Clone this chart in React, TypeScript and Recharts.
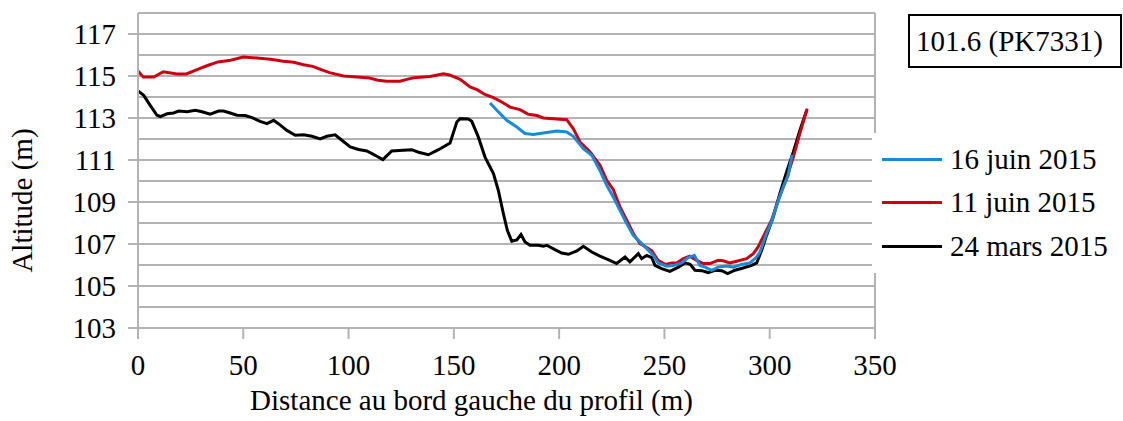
import React from 'react';
import { LineChart, Line, XAxis, YAxis, CartesianGrid, ReferenceLine, Legend, Label } from 'recharts';

// 24 mars 2015
const distMars = [0, 2.7, 5.8, 9, 10.6, 13.8, 16.9, 19.3, 23.3, 27.2, 30.4, 34.3, 38.3, 40.6, 43.8, 47, 50.9, 54.1, 58, 61.2, 64.4, 66.7, 70.7, 74.7, 78.6, 82.6, 86.5, 89.7, 93.6, 96.8, 100.8, 104.7, 108.7, 111.8, 113.4, 116.3, 120.5, 126, 130, 133.2, 137.9, 142.7, 148.2, 151.4, 153, 156.9, 158.5, 161.6, 164.8, 168.8, 171.1, 173.5, 175.4, 177.5, 179.9, 181.9, 183.8, 186.2, 190.1, 192.5, 194.1, 198, 201.2, 204.4, 208.4, 211.5, 215.5, 219.4, 224.1, 227.3, 231.3, 233.6, 237.6, 239.2, 241.6, 244, 245.5, 248.7, 252.6, 256.6, 259.8, 262.2, 264.5, 267.7, 270.8, 274, 277.2, 280, 283.5, 287.4, 291.4, 293.8, 296.2, 298.5, 301.7, 304.8, 308, 311.2, 314.3, 317.5];
const altMars = [114.29, 114.08, 113.6, 113.13, 113.07, 113.2, 113.24, 113.33, 113.3, 113.37, 113.3, 113.18, 113.33, 113.33, 113.24, 113.13, 113.12, 113.02, 112.84, 112.73, 112.89, 112.73, 112.41, 112.18, 112.2, 112.13, 112.0, 112.13, 112.2, 111.94, 111.62, 111.5, 111.43, 111.27, 111.18, 111.02, 111.43, 111.46, 111.49, 111.37, 111.25, 111.49, 111.81, 112.81, 112.97, 112.95, 112.84, 112.1, 111.14, 110.35, 109.56, 108.45, 107.65, 107.13, 107.19, 107.45, 107.1, 106.94, 106.94, 106.89, 106.94, 106.73, 106.57, 106.51, 106.67, 106.89, 106.62, 106.42, 106.22, 106.07, 106.38, 106.15, 106.54, 106.3, 106.46, 106.35, 105.98, 105.83, 105.7, 105.9, 106.1, 106.03, 105.75, 105.73, 105.64, 105.75, 105.73, 105.59, 105.75, 105.86, 105.98, 106.1, 106.7, 107.41, 108.29, 109.4, 110.43, 111.38, 112.41, 113.35];

// 11 juin 2015
const distJuin11 = [0, 2.5, 7.5, 12, 18.5, 23, 28, 33, 38, 44, 50, 56.5, 63, 69, 74, 78.6, 83, 87, 91, 97.6, 104, 110, 114, 118, 124.5, 127.7, 131, 138.7, 145, 148, 153, 157.7, 161, 165, 168.8, 172.8, 176.7, 181.4, 185.4, 189.4, 192.5, 198.9, 203.6, 206.7, 209.9, 214.7, 219.4, 222.6, 225.7, 228.9, 232.1, 235.2, 238.4, 241.6, 244, 247, 250.3, 253.4, 255.8, 259, 262, 265.3, 268.5, 271.6, 275.5, 277.9, 281, 284.3, 289, 292.2, 294.5, 297.7, 300.9, 304, 308, 311.2, 314.3, 317.8];
const altJuin11 = [115.24, 114.95, 114.95, 115.2, 115.1, 115.1, 115.3, 115.5, 115.67, 115.75, 115.9, 115.86, 115.8, 115.7, 115.65, 115.54, 115.46, 115.3, 115.16, 115.0, 114.95, 114.9, 114.8, 114.75, 114.75, 114.84, 114.92, 114.98, 115.11, 115.05, 114.84, 114.48, 114.35, 114.11, 113.97, 113.76, 113.52, 113.4, 113.18, 113.12, 113.0, 112.95, 112.92, 112.5, 111.86, 111.38, 110.75, 110.03, 109.6, 108.76, 108.13, 107.5, 107.02, 106.83, 106.67, 106.22, 106.03, 106.1, 106.1, 106.3, 106.42, 106.22, 106.07, 106.07, 106.22, 106.2, 106.1, 106.18, 106.3, 106.54, 106.86, 107.5, 108.13, 109.08, 110.11, 111.14, 112.26, 113.45];

// 16 juin 2015
const distJuin16 = [167.2, 170.4, 175.1, 179.9, 183.8, 187.7, 192.5, 198.9, 203.6, 206.7, 211.5, 215.5, 219.4, 222.6, 225.7, 228.9, 232.1, 235.2, 238.4, 241.6, 244.7, 247, 251, 254.1, 258.2, 261.3, 264.2, 266.9, 269.3, 272.4, 275.5, 279.5, 282.6, 286.6, 290.6, 293.8, 295.3, 298.5, 300.9, 303.3, 306.4, 308.8, 310.6];
const altJuin16 = [113.71, 113.37, 112.89, 112.57, 112.26, 112.22, 112.29, 112.38, 112.33, 112.13, 111.54, 111.22, 110.5, 109.8, 109.24, 108.6, 107.97, 107.41, 107.1, 106.78, 106.46, 106.1, 105.94, 105.97, 106.1, 106.35, 106.46, 105.98, 105.9, 105.75, 105.9, 105.95, 105.9, 106.03, 106.1, 106.38, 106.6, 107.5, 108.05, 108.84, 109.71, 110.27, 111.25];

const xTicks = [0, 50, 100, 150, 200, 250, 300, 350];
// every integer gets a grid line, only odd values get a label
const yGridTicks = [103, 104, 105, 106, 107, 108, 109, 110, 111, 112, 113, 114, 115, 116, 117, 118];
const yLabelTicks = [103, 105, 107, 109, 111, 113, 115, 117];
const legendOrder = ['16 juin 2015', '11 juin 2015', '24 mars 2015'];

const toPoints = (dist: number[], alt: number[]) => dist.map((d, i) => ({ dist: d, alt: alt[i] }));

const FONT = '"Liberation Serif", "Times New Roman", serif';
const GRID = '#b3b3b3';
const Y_TICK_SIZE = 10;
const Y_TICK_MARGIN = 12;

const YTick = (props: any) => {
  const { x, y, payload } = props;
  if (!yLabelTicks.includes(payload.value)) return null;
  const lineStart = x + Y_TICK_MARGIN;
  return (
    <g>
      <line x1={lineStart} x2={lineStart + Y_TICK_SIZE} y1={y} y2={y} stroke={GRID} strokeWidth={2} />
      <text x={x} y={y} dy="0.355em" textAnchor="end" fill="#000" fontSize={29} fontFamily={FONT}>
        {payload.value}
      </text>
    </g>
  );
};

const renderLegend = (props: any) => {
  const items = [...(props.payload || [])].sort(
    (a: any, b: any) => legendOrder.indexOf(a.value) - legendOrder.indexOf(b.value)
  );
  return (
    <div style={{ paddingTop: 5, fontFamily: FONT, fontSize: 29, color: '#000' }}>
      {items.map((it: any) => (
        <div key={it.value} style={{ display: 'flex', alignItems: 'center', height: 43.3 }}>
          <div style={{ width: 60, height: 3, background: it.color, marginLeft: 10 }} />
          <span style={{ marginLeft: 8, whiteSpace: 'nowrap' }}>{it.value}</span>
        </div>
      ))}
    </div>
  );
};

const App: React.FC = () => {
  return (
    <div style={{ position: 'absolute', left: 0, top: 0, width: 1123, height: 421, background: '#fff' }}>
      <LineChart width={1123} height={421} margin={{ top: 13, right: 248, bottom: 0, left: 0 }}>
        <CartesianGrid vertical={false} stroke={GRID} strokeWidth={2} />
        <XAxis
          type="number"
          dataKey="dist"
          domain={[0, 350]}
          ticks={xTicks}
          height={93}
          tickSize={11}
          tickMargin={15}
          axisLine={{ stroke: GRID, strokeWidth: 2 }}
          tickLine={{ stroke: GRID, strokeWidth: 2 }}
          tick={{ fill: '#000', fontSize: 29, fontFamily: FONT }}
        >
          <Label value="Distance au bord gauche du profil (m)" position="insideBottom" offset={11} dx={-35} fill="#000" fontSize={29} fontFamily={FONT} />
        </XAxis>
        <YAxis
          type="number"
          domain={[103, 118]}
          ticks={yGridTicks}
          interval={0}
          width={138}
          tickSize={Y_TICK_SIZE}
          tickMargin={Y_TICK_MARGIN}
          axisLine={{ stroke: GRID, strokeWidth: 2 }}
          tickLine={false}
          tick={<YTick />}
        >
          <Label value="Altitude (m)" angle={-90} position="insideLeft" offset={22} dy={30} fill="#000" fontSize={29} fontFamily={FONT} style={{ textAnchor: 'middle' }} />
        </YAxis>
        <ReferenceLine x={350} stroke={GRID} strokeWidth={2} />
        <Line data={toPoints(distMars, altMars)} dataKey="alt" name="24 mars 2015" type="linear" stroke="#000000" strokeWidth={3} dot={false} activeDot={false} isAnimationActive={false} />
        <Line data={toPoints(distJuin11, altJuin11)} dataKey="alt" name="11 juin 2015" type="linear" stroke="#cc0011" strokeWidth={3} dot={false} activeDot={false} isAnimationActive={false} />
        <Line data={toPoints(distJuin16, altJuin16)} dataKey="alt" name="16 juin 2015" type="linear" stroke="#168bd8" strokeWidth={3} dot={false} activeDot={false} isAnimationActive={false} />
        <Legend
          layout="vertical"
          align="center"
          verticalAlign="middle"
          content={renderLegend}
          wrapperStyle={{ left: 872, top: 133, width: 251, height: 140, background: '#fff' }}
        />
      </LineChart>
      <div
        style={{
          position: 'absolute',
          left: 908,
          top: 14,
          width: 214,
          height: 54,
          boxSizing: 'border-box',
          border: '2px solid #000',
          display: 'flex',
          alignItems: 'center',
          paddingLeft: 6,
          fontFamily: FONT,
          fontSize: 29,
          color: '#000',
          whiteSpace: 'nowrap',
          background: '#fff',
        }}
      >
        101.6 (PK7331)
      </div>
    </div>
  );
};

export default App;
